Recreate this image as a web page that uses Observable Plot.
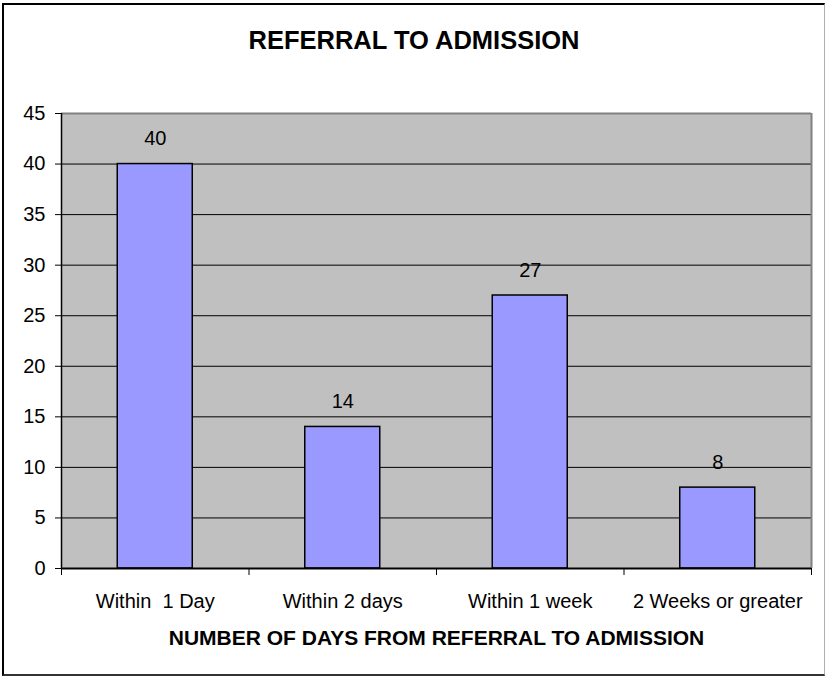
<!DOCTYPE html>
<html>
<head>
<meta charset="utf-8">
<script src="https://cdn.jsdelivr.net/npm/d3@7"></script>
<script src="https://cdn.jsdelivr.net/npm/@observablehq/plot@0.6"></script>
<style>
  html, body { margin: 0; padding: 0; background: #fff; }
  #wrap { position: relative; width: 825px; height: 676px; font-family: "Liberation Sans", Arial, sans-serif; }
  #wrap svg { position: absolute; left: 0; top: 0; }
  #title { position: absolute; left: 0; width: 828px; top: 28px; text-align: center; font-size: 25.5px; line-height: 25px; font-weight: bold; color: #000; }
  #border { position: absolute; left: 2px; top: 3px; width: 820px; height: 669px; border-left: 2px solid #000; border-top: 2px solid #000; border-right: 1px solid #b0b0b0; border-bottom: 2px solid #333; pointer-events: none; }
</style>
</head>
<body>
<div id="wrap">
  <div id="title"></div>
  <div id="border"></div>
</div>
<script>
const chartTitle = "REFERRAL TO ADMISSION";
const xAxisTitle = "NUMBER OF DAYS FROM REFERRAL TO ADMISSION";
const categories = ["Within\u00a0 1 Day", "Within 2 days", "Within 1 week", "2 Weeks or greater"];
const values = [40, 14, 27, 8];
const yTicks = [0, 5, 10, 15, 20, 25, 30, 35, 40, 45];

const rows = categories.map((c, i) => ({ category: c, value: values[i], i }));
const boundaries = d3.range(categories.length + 1);
const centers = categories.map((c, i) => i + 0.5);
const yMax = yTicks[yTicks.length - 1];

document.getElementById("title").textContent = chartTitle;

const chart = Plot.plot({
  width: 825,
  height: 676,
  marginLeft: 61,
  marginRight: 14,
  marginTop: 113,
  marginBottom: 108,
  style: { fontFamily: "'Liberation Sans', Arial, sans-serif", fontSize: "20px", background: "transparent", color: "#000" },
  x: { type: "linear", domain: [0, categories.length], label: null },
  y: { domain: [0, yMax], label: null },
  marks: [
    Plot.frame({ fill: "#c0c0c0", stroke: "none" }),
    Plot.ruleY(yTicks.filter(t => t > 0 && t < yMax), { stroke: "#000", strokeWidth: 1 }),
    Plot.rect(rows, {
      x1: d => d.i + 0.3,
      x2: d => d.i + 0.7,
      y1: 0,
      y2: "value",
      fill: "#9999ff",
      stroke: "#000",
      strokeWidth: 1.5
    }),
    Plot.ruleY([yMax], { stroke: "#808080", strokeWidth: 2 }),
    Plot.ruleX([categories.length], { stroke: "#808080", strokeWidth: 2 }),
    Plot.ruleX([0], { stroke: "#000", strokeWidth: 1.5 }),
    Plot.ruleY([0], { stroke: "#000", strokeWidth: 2 }),
    Plot.axisY({ ticks: yTicks, tickSize: 6, tickPadding: 10, fontSize: 20, tickFormat: d => String(d) }),
    Plot.axisX({ ticks: boundaries, tickSize: 7, tickFormat: () => "" }),
    Plot.axisX({
      ticks: centers,
      tickSize: 0,
      tickPadding: 25,
      fontSize: 20,
      tickFormat: d => categories[Math.round(d - 0.5)]
    }),
    Plot.text(rows, {
      x: d => d.i + 0.5,
      y: "value",
      text: d => String(d.value),
      dy: -25,
      fontSize: 20,
      fill: "#000"
    }),
    Plot.text([xAxisTitle], {
      frameAnchor: "bottom",
      text: d => d,
      dy: 70,
      lineAnchor: "middle",
      fontSize: 21,
      fontWeight: "bold",
      fill: "#000"
    })
  ]
});

document.getElementById("wrap").appendChild(chart);
</script>
</body>
</html>
